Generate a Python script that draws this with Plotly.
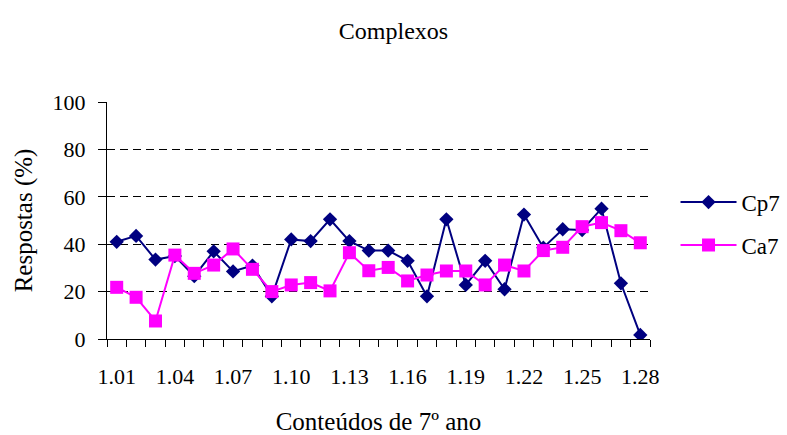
import plotly.graph_objects as go

# Content codes for the 7th-year items
categories = [f"1.{i:02d}" for i in range(1, 29)]
tick_labels = categories[::3]

# Percentage of answers per item
cp7 = [41, 43.5, 33.5, 35, 26.5, 37, 28.5, 31, 18, 42, 41.3, 50.5, 41.3, 37.3,
       37.3, 33, 18, 50.5, 22.8, 33, 21, 52.5, 38.5, 46.3, 46, 55, 23.5, 1.7]
ca7 = [21.8, 17.6, 7.6, 35.4, 27.7, 31.2, 38, 29.4, 20, 22.8, 23.8, 20.3, 36.4, 28.8,
       30.2, 24.5, 27, 28.7, 28.7, 22.8, 31.2, 28.7, 37.3, 38.7, 47.4, 49.1, 45.7, 40.6]

xidx = list(range(len(categories)))
FONT = "Liberation Serif"

fig = go.Figure()
fig.add_trace(go.Scatter(
    x=xidx, y=cp7, name="Cp7", mode="lines+markers", legendgroup="a",
    line=dict(color="#000080", width=2),
    marker=dict(symbol="diamond", size=11, color="#000080"),
    customdata=categories, hovertemplate="%{customdata}: %{y}<extra>Cp7</extra>",
))
fig.add_trace(go.Scatter(
    x=xidx, y=ca7, name="Ca7", mode="lines+markers", legendgroup="b",
    line=dict(color="#FF00FF", width=2),
    marker=dict(symbol="square", size=13, color="#FF00FF"),
    customdata=categories, hovertemplate="%{customdata}: %{y}<extra>Ca7</extra>",
))

fig.update_layout(
    width=787, height=435,
    margin=dict(l=107, r=137, t=102, b=96, autoexpand=False),
    paper_bgcolor="white", plot_bgcolor="white",
    font=dict(family=FONT, color="black", size=22),
    title=dict(text="Complexos", x=0.5, xref="container", xanchor="center",
               y=0.93, yref="container", yanchor="middle",
               font=dict(family=FONT, size=24, color="black")),
    legend=dict(x=1.047, xanchor="left", y=0.487, yanchor="middle",
                font=dict(family=FONT, size=23, color="black"),
                itemwidth=56, tracegroupgap=10, traceorder="grouped",
                bgcolor="rgba(0,0,0,0)"),
    showlegend=True,
)

fig.update_xaxes(
    automargin=False,
    range=[-0.5, len(categories) - 0.5],
    tickmode="array", tickvals=xidx[::3], ticktext=tick_labels,
    ticks="", ticklabelstandoff=18,
    tickfont=dict(family=FONT, size=22, color="black"),
    minor=dict(tickmode="array", tickvals=[i - 0.5 for i in range(len(categories) + 1)],
               ticks="outside", ticklen=7, tickcolor="black", tickwidth=1),
    showline=True, linecolor="black", linewidth=1,
    showgrid=False, zeroline=False,
    title=dict(text="Conteúdos de 7º ano", standoff=26,
               font=dict(family=FONT, size=25, color="black")),
)

fig.update_yaxes(
    automargin=False,
    range=[0, 100], tickmode="array", tickvals=[0, 20, 40, 60, 80, 100],
    ticks="outside", ticklen=8, tickcolor="black", tickwidth=1,
    ticklabelstandoff=8,
    tickfont=dict(family=FONT, size=22, color="black"),
    showline=True, linecolor="black", linewidth=1,
    showgrid=True, gridcolor="black", gridwidth=1, griddash="8px,5px",
    zeroline=False,
    title=dict(text="Respostas (%)", standoff=12,
               font=dict(family=FONT, size=25, color="black")),
)

fig.write_html("out.html")
